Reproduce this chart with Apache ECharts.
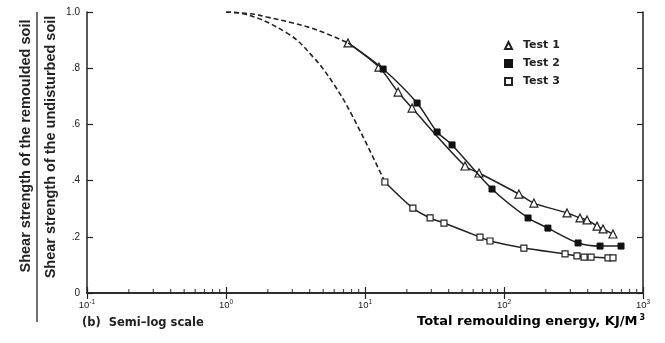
<!DOCTYPE html>
<html>
<head>
<meta charset="utf-8">
<script src="https://cdn.jsdelivr.net/npm/echarts@6/dist/echarts.min.js"></script>
<style>
  html, body { margin: 0; background: #fff; }
  #chart { width: 665px; height: 343px; }
</style>
</head>
<body>
<div id="chart"></div>
<script>
// energy (KJ/M3) and strength ratio
const test1Energy = [7.55, 12.6, 17.3, 21.8, 52.4, 66.1, 128, 164, 284, 352, 396, 467, 516, 608];
const test1Ratio = [0.890, 0.804, 0.715, 0.658, 0.452, 0.427, 0.352, 0.320, 0.285, 0.267, 0.260, 0.238, 0.228, 0.210];

const test2Energy = [13.5, 23.7, 33.0, 42.3, 82.0, 149, 207, 341, 491, 695];
const test2Ratio = [0.797, 0.676, 0.573, 0.527, 0.370, 0.267, 0.231, 0.178, 0.167, 0.167];

const test3Energy = [13.9, 22.1, 29.4, 37.0, 67.2, 79.3, 139, 275, 335, 377, 423, 560, 608];
const test3Ratio = [0.395, 0.302, 0.267, 0.249, 0.199, 0.185, 0.160, 0.139, 0.132, 0.128, 0.128, 0.125, 0.125];

// extrapolated (dashed) parts
const dashUpperEnergy = [1.0, 1.6, 1.97, 3.03, 4.52, 7.55];
const dashUpperRatio = [1.0, 0.992, 0.982, 0.961, 0.936, 0.890];
const dashLowerEnergy = [1.0, 1.26, 2.75, 4.23, 5.89, 8.2, 13.9];
const dashLowerRatio = [1.0, 0.996, 0.925, 0.840, 0.747, 0.626, 0.395];

const decades = [0.1, 1, 10, 100];
const minorSteps = [2, 3, 4, 5, 6, 7, 8, 9];
const supText = { 0.1: "-1", 1: "0", 10: "1", 100: "2", 1000: "3" };

const pairs = (xs, ys) => xs.map((x, i) => [x, ys[i]]);
const minorTicks = [];
decades.forEach((d) => minorSteps.forEach((s) => minorTicks.push([d * s, 0])));

const ink = "#222";
const font = "'Liberation Sans', Arial, sans-serif";
const wide = "'DejaVu Sans', sans-serif";

const chart = echarts.init(document.getElementById("chart"));

const option = {
  animation: false,
  backgroundColor: "#fff",
  grid: { left: 87, right: 22, top: 12, bottom: 50 },
  legend: {
    data: [
      { name: "Test 1", icon: "triangle" },
      { name: "Test 2", icon: "rect" },
      { name: "Test 3", icon: "rect" },
    ],
    orient: "vertical",
    left: 499,
    top: 35,
    itemWidth: 7,
    itemHeight: 7,
    itemGap: 7,
    selectedMode: false,
    textStyle: { fontFamily: wide, fontSize: 11, fontWeight: "bold", color: ink, padding: [0, 0, 0, 6] },
  },
  xAxis: [
    {
      type: "log",
      logBase: 10,
      min: 0.1,
      max: 1000,
      position: "bottom",
      axisLine: { lineStyle: { color: ink, width: 1.5 } },
      axisTick: { inside: true, length: 6, lineStyle: { color: ink, width: 1.2 } },
      splitLine: { show: false },
      axisLabel: {
        margin: 6,
        formatter: (v) => "{b|10}{s|" + supText[v] + "}",
        rich: {
          b: { fontFamily: font, fontSize: 9.5, color: ink },
          s: { fontFamily: font, fontSize: 6.5, color: ink, padding: [0, 0, 6, 0] },
        },
      },
    },
    {
      type: "log",
      logBase: 10,
      min: 0.1,
      max: 1000,
      position: "top",
      axisLine: { lineStyle: { color: ink, width: 1.5 } },
      axisTick: { inside: true, length: 6, lineStyle: { color: ink, width: 1.2 } },
      axisLabel: { show: false },
      splitLine: { show: false },
    },
  ],
  yAxis: [
    {
      type: "value",
      min: 0,
      max: 1,
      interval: 0.2,
      position: "left",
      axisLine: { show: true, lineStyle: { color: ink, width: 1.5 } },
      axisTick: { show: true, inside: true, length: 6, lineStyle: { color: ink, width: 1.2 } },
      splitLine: { show: false },
      axisLabel: {
        margin: 7,
        fontFamily: font,
        fontSize: 10,
        color: ink,
        formatter: (v) => (v === 0 ? "0" : v === 1 ? "1.0" : "." + Math.round(v * 10)),
      },
    },
    {
      type: "value",
      min: 0,
      max: 1,
      interval: 0.2,
      position: "right",
      axisLine: { show: true, lineStyle: { color: ink, width: 1.5 } },
      axisTick: { show: true, inside: true, length: 6, lineStyle: { color: ink, width: 1.2 } },
      splitLine: { show: false },
      axisLabel: { show: false },
    },
  ],
  series: [
    {
      name: "dash12",
      type: "line",
      data: pairs(dashUpperEnergy, dashUpperRatio),
      smooth: 0.4,
      symbol: "none",
      lineStyle: { color: ink, width: 1.6, type: [5, 3] },
      silent: true,
    },
    {
      name: "dash3",
      type: "line",
      data: pairs(dashLowerEnergy, dashLowerRatio),
      smooth: 0.4,
      symbol: "none",
      lineStyle: { color: ink, width: 1.6, type: [5, 3] },
      silent: true,
    },
    {
      name: "Test 1",
      type: "line",
      data: pairs(test1Energy, test1Ratio),
      smooth: 0.3,
      symbol: "triangle",
      symbolSize: 8,
      itemStyle: { color: "#fff", borderColor: ink, borderWidth: 1.2 },
      lineStyle: { color: ink, width: 1.5 },
      z: 3,
    },
    {
      name: "Test 2",
      type: "line",
      // starts from the end of the shared dashed part
      data: [{ value: [dashUpperEnergy[5], dashUpperRatio[5]], symbol: "none" }].concat(pairs(test2Energy, test2Ratio)),
      smooth: 0.3,
      symbol: "rect",
      symbolSize: 6,
      itemStyle: { color: "#111", borderColor: "#111", borderWidth: 1 },
      lineStyle: { color: ink, width: 1.5 },
      z: 4,
    },
    {
      name: "Test 3",
      type: "line",
      data: pairs(test3Energy, test3Ratio),
      smooth: 0.3,
      symbol: "rect",
      symbolSize: 6,
      itemStyle: { color: "#fff", borderColor: ink, borderWidth: 1.2 },
      lineStyle: { color: ink, width: 1.5 },
      z: 3,
    },
    {
      name: "minor",
      type: "scatter",
      data: minorTicks,
      symbol: "rect",
      symbolSize: [1.2, 4],
      symbolOffset: [0, -2],
      itemStyle: { color: ink },
      silent: true,
    },
  ],
  graphic: [
    {
      type: "text",
      x: 26,
      y: 146,
      rotation: Math.PI / 2,
      style: {
        text: "Shear strength of the remoulded soil",
        fontFamily: font,
        fontSize: 14.5,
        fontWeight: "bold",
        fill: ink,
        align: "center",
        verticalAlign: "middle",
      },
    },
    {
      type: "line",
      shape: { x1: 37, y1: 12, x2: 37, y2: 322 },
      style: { stroke: ink, lineWidth: 1.3 },
    },
    {
      type: "text",
      x: 51,
      y: 147,
      rotation: Math.PI / 2,
      style: {
        text: "Shear strength of the undisturbed soil",
        fontFamily: font,
        fontSize: 14.5,
        fontWeight: "bold",
        fill: ink,
        align: "center",
        verticalAlign: "middle",
      },
    },
    {
      type: "text",
      x: 82,
      y: 323,
      style: {
        text: "(b)  Semi\u2013log scale",
        fontFamily: wide,
        fontSize: 11.5,
        fontWeight: "bold",
        fill: ink,
        align: "left",
        verticalAlign: "middle",
      },
    },
    {
      type: "text",
      x: 645,
      y: 322,
      style: {
        text: "{t|Total remoulding energy, KJ/M}{s|3}",
        align: "right",
        verticalAlign: "middle",
        rich: {
          t: { fontFamily: wide, fontSize: 13, fontWeight: "bold", color: ink },
          s: { fontFamily: wide, fontSize: 8, fontWeight: "bold", color: ink, padding: [0, 0, 8, 2] },
        },
      },
    },
  ],
};

chart.setOption(option);
</script>
</body>
</html>
